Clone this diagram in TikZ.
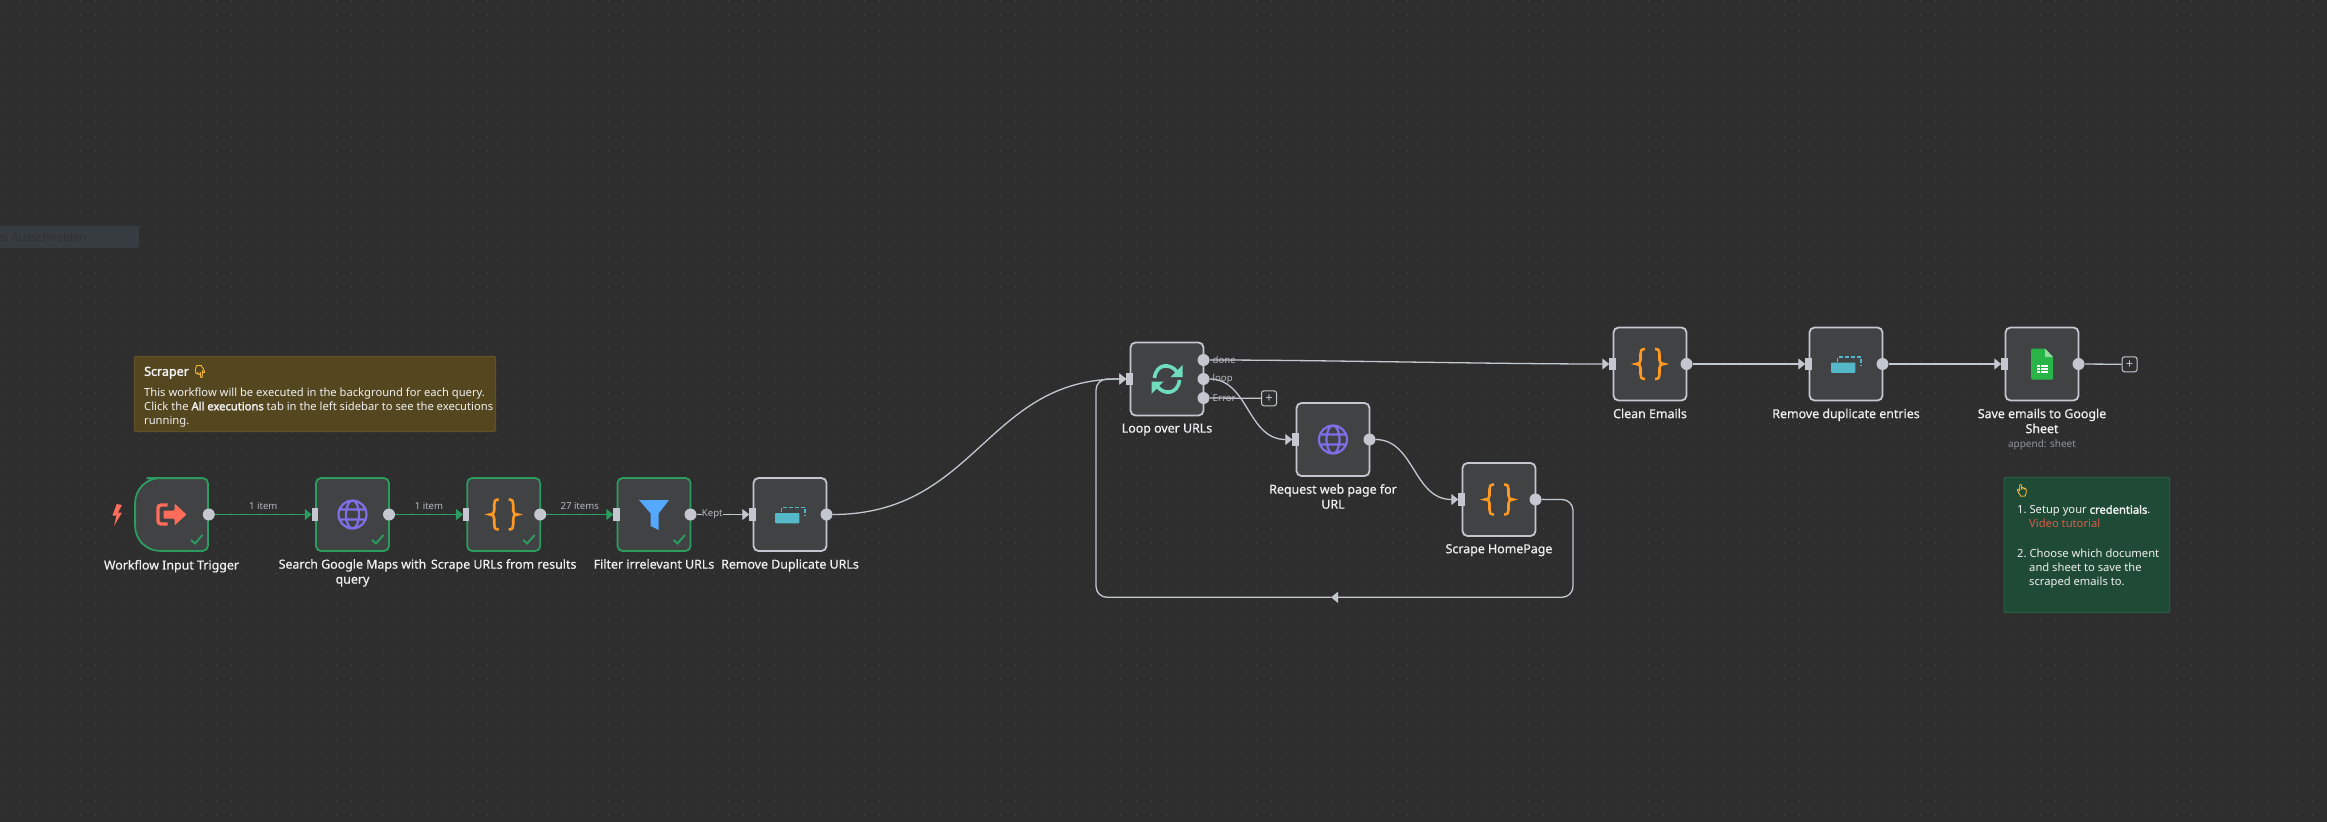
\documentclass[tikz,border=0pt]{standalone}
\usepackage{fontspec}
\setmainfont{Noto Sans}[AutoFakeBold=2.2]
\newfontfamily\labelfont{Noto Sans}[FakeBold=0.5]
\newfontfamily\emojifont{Noto Emoji}[FakeBold=1.5]
\usetikzlibrary{arrows.meta,positioning}
\definecolor{canvas}{HTML}{2E2E2E}
\definecolor{griddot}{HTML}{4C4C4C}
\definecolor{nodefill}{HTML}{414244}
\definecolor{wire}{HTML}{C4C7D0}
\definecolor{okgreen}{HTML}{2A9D5F}
\definecolor{labeltext}{HTML}{F0F0F2}
\definecolor{edgetext}{HTML}{B5B8C2}
\definecolor{coral}{HTML}{FF6D5A}
\definecolor{globeviolet}{HTML}{7D6FE8}
\definecolor{braceorange}{HTML}{FF9922}
\definecolor{funnelblue}{HTML}{55A8FF}
\definecolor{dedupeteal}{HTML}{54B8C9}
\definecolor{loopmint}{HTML}{6FDCC0}
\definecolor{sheetgreen}{HTML}{28B446}
\definecolor{handyellow}{HTML}{F5B942}
\definecolor{ghoststrip}{HTML}{363C40}
\definecolor{ghosttext}{HTML}{2F3033}
\definecolor{amberfill}{HTML}{54461F}
\definecolor{amberline}{HTML}{6E5C28}
\definecolor{pinefill}{HTML}{1F4A35}
\definecolor{pineline}{HTML}{2A6A48}
\tikzset{
  flownode/.style={rectangle, draw=wire, fill=nodefill, line width=1.8pt, rounded corners=5pt,
    minimum size=73pt, inner sep=0pt, outer sep=0pt},
  donenode/.style={flownode, draw=okgreen},
  flowlabel/.style={text=labeltext, font=\labelfont\fontsize{12.4}{15}\selectfont, align=center, inner sep=0pt},
  outport/.style={circle, fill=wire, minimum size=12pt, inner sep=0pt, outer sep=0pt},
  inport/.style={rectangle, fill=wire, minimum width=6.5pt, minimum height=12.5pt, inner sep=0pt, outer sep=0pt},
  wireedge/.style={draw=wire, line width=1.3pt, -{Triangle[length=7pt,width=11pt]}},
  okedge/.style={draw=okgreen, line width=1.3pt, -{Triangle[length=7pt,width=11pt]}},
  edgelabel/.style={text=edgetext, font=\fontsize{9.6}{11}\selectfont, inner sep=0pt},
  pluscap/.style={rectangle, draw=wire, fill=canvas, line width=1pt, rounded corners=2.5pt, minimum size=15pt,
    inner sep=0pt, text=wire, font=\fontsize{13}{13}\selectfont},
  stickytext/.style={text=labeltext, font=\fontsize{11.2}{14}\selectfont, align=left, inner sep=0pt, anchor=north west},
}
\newcommand{\bracesicon}[1]{\begin{scope}[shift={(#1)}]
  \foreach \s in {1,-1}
    \draw[braceorange, line width=2.6pt, xscale=\s] (-5,-15) .. controls (-9,-15) and (-9.5,-13) .. (-9.5,-10) -- (-9.5,-4)
      .. controls (-9.5,-1) and (-11,0) .. (-14,0) .. controls (-11,0) and (-9.5,1) .. (-9.5,4) -- (-9.5,10)
      .. controls (-9.5,13) and (-9,15) .. (-5,15);
\end{scope}}
\newcommand{\globeicon}[1]{\begin{scope}[shift={(#1)}]
  \draw[globeviolet, line width=2.2pt] (0,0) circle [radius=14] (0,0) ellipse [x radius=6.5, y radius=14]
    (-13,-5) -- (13,-5) (-13,5) -- (13,5);
\end{scope}}
\newcommand{\dedupeicon}[1]{\begin{scope}[shift={(#1)}]
  \fill[dedupeteal, rounded corners=0.8pt] (-15,-1.5) rectangle (9.3,8.8);
  \draw[dedupeteal, line width=1.6pt, dash pattern=on 4pt off 2pt] (-8.7,-2.5) -- (-8.7,-7) -- (15,-7) -- (15,1.5);
\end{scope}}

\begin{document}
\begin{tikzpicture}[x=1pt, y=-1pt]
\useasboundingbox (0,0) rectangle (2327,822);
% Canvas and its dots
\fill[canvas] (0,0) rectangle (2327,822);
\foreach \j in {0,...,54} {
  \pgfmathsetmacro{\rowy}{0.9+15.08*\j}
  \draw[griddot, line width=1pt, dash pattern=on 1pt off 14.08pt] (4.5,\rowy) -- (2327,\rowy);
}
% Faded selection strip at the left edge
\fill[ghoststrip] (0,226) rectangle (139,248);
\node[text=ghosttext, font=\fontsize{11.5}{13}\selectfont, inner sep=0pt, anchor=east] (ghost) at (87,237) {es Ausschneiden};

% Sticky notes
\draw[fill=amberfill, draw=amberline, rounded corners=1.5pt, line width=0.8pt] (134.3,356.3) rectangle (495.7,431.7);
\node[stickytext, font=\bfseries\fontsize{12.5}{14}\selectfont] (scrapertitle) at (144,365) {Scraper {\emojifont\textcolor{handyellow}{👇}}};
\node[stickytext] (scrapernote) at (144,387.5) {This workflow will be executed in the background for each query.\\
  Click the \textbf{All executions} tab in the left sidebar to see the executions\\ running.};
\draw[fill=pinefill, draw=pineline, rounded corners=1.5pt, line width=0.8pt] (2004,477.3) rectangle (2169.7,612.7);
\node[stickytext, font=\emojifont\fontsize{12}{14}\selectfont, text=handyellow] (sheethand) at (2014,484) {👆};
\node[stickytext] (sheetnote) at (2017,505) {1.\ Setup your \textbf{credentials}.\\
  \hspace*{12pt}\textcolor{coral!85!black}{Video tutorial}\\[15.5pt]
  2.\ Choose which document\\ \hspace*{12pt}and sheet to save the\\ \hspace*{12pt}scraped emails to.};

% Workflow nodes
\node[minimum size=74.6pt, inner sep=0pt, outer sep=0pt] (trigger) at (171.5,514.5) {};
\draw[okgreen, fill=nodefill, line width=1.8pt] ([yshift=-0.9pt]trigger.north) [rounded corners=5pt] -- ([shift={(-0.9,0.9)}]trigger.north east)
  -- ([shift={(-0.9,-0.9)}]trigger.south east) [rounded corners=25pt] -- ([shift={(0.9,-0.9)}]trigger.south west)
  -- ([shift={(0.9,0.9)}]trigger.north west) -- cycle;
\node[donenode] (search) at (352.5,514.5) {};
\node[donenode] (scrapeurls) at (503.7,514.5) {};
\node[donenode] (filter) at (654,514.5) {};
\node[flownode] (dedupeurls) at (790,514.5) {};
\node[flownode] (loop) at (1167,379) {};
\node[flownode] (request) at (1333,439.5) {};
\node[flownode] (home) at (1499,499.5) {};
\node[flownode] (clean) at (1650,364) {};
\node[flownode] (dedupe) at (1846,364) {};
\node[flownode] (sheet) at (2042,364) {};

% Names under the nodes
\node[flowlabel, below=8pt of trigger] (triggername) {Workflow Input Trigger};
\node[flowlabel, below=8pt of search] (searchname) {Search Google Maps with\\query};
\node[flowlabel, below=8pt of scrapeurls] (scrapeurlsname) {Scrape URLs from results};
\node[flowlabel, below=8pt of filter] (filtername) {Filter irrelevant URLs};
\node[flowlabel, below=8pt of dedupeurls] (dedupeurlsname) {Remove Duplicate URLs};
\node[flowlabel, below=8pt of loop] (loopname) {Loop over URLs};
\node[flowlabel, below=8pt of request] (requestname) {Request web page for\\URL};
\node[flowlabel, below=8pt of home] (homename) {Scrape HomePage};
\node[flowlabel, below=8pt of clean] (cleanname) {Clean Emails};
\node[flowlabel, below=8pt of dedupe] (dedupename) {Remove duplicate entries};
\node[flowlabel, below=8pt of sheet] (sheetname) {Save emails to Google\\Sheet};
\node[text=edgetext!75!canvas, font=\fontsize{10}{12}\selectfont, inner sep=0pt, below=6pt of sheetname] (sheetmode) {append: sheet};

% Input ports, output ports
\foreach \n in {search,scrapeurls,filter,dedupeurls,loop,request,home,clean,dedupe,sheet}
  \node[inport] (\n-in) at ([xshift=-1pt]\n.west) {};
\foreach \n in {trigger,search,scrapeurls,filter,dedupeurls,request,home,clean,dedupe,sheet}
  \node[outport] (\n-out) at (\n.east) {};
\node[outport] (loopdone) at ([yshift=19pt]loop.east) {};
\node[outport] (loopnext) at (loop.east) {};
\node[outport] (looperror) at ([yshift=-19pt]loop.east) {};
\node[pluscap] (errorplus) at (1269,398.3) {+};
\node[pluscap] (sheetplus) at (2129.6,364.3) {+};

% Connectors of the first row
\draw[okedge] (trigger-out) -- (search-in.west) node[edgelabel, midway, above=4pt] (edgeone) {1 item};
\draw[okedge] (search-out) -- (scrapeurls-in.west) node[edgelabel, midway, above=4pt] (edgetwo) {1 item};
\draw[okedge] (scrapeurls-out) -- (filter-in.west) node[edgelabel, midway, above=4pt] (edgethree) {27 items};
\draw[wireedge] (filter-out) -- (dedupeurls-in.west) node[edgelabel, fill=canvas, pos=0.3] (edgekept) {Kept};
\draw[wireedge] (dedupeurls-out) .. controls +(150,0) and +(-140,0) .. (loop-in.west);

% Connectors of the loop
\draw[wireedge] (loopdone) .. controls +(120,0) and +(-120,0) .. (clean-in.west);
\draw[wireedge] (loopnext) .. controls +(45,0) and +(-45,0) .. (request-in.west);
\draw[draw=wire, line width=1.3pt] (looperror) -- (errorplus);
\draw[wireedge] (request-out) .. controls +(45,0) and +(-45,0) .. (home-in.west);
\coordinate (backarrow) at (1331,597.3);
\draw[wireedge, rounded corners=11pt] (home-out) -- (1573,499.5) -- (1573,597.3) -- (backarrow);
\draw[wireedge, rounded corners=11pt] (backarrow) -- (1096,597.3) -- (1096,379) -- (loop-in.west);
\draw[wireedge] (clean-out) -- (dedupe-in.west);
\draw[wireedge] (dedupe-out) -- (sheet-in.west);
\draw[draw=wire, line width=1.3pt] (sheet-out) -- (sheetplus);
\foreach \p/\t in {loopdone/done,loopnext/loop,looperror/Error}
  \node[edgelabel, anchor=west, xshift=3pt] (\p-name) at (\p.east) {\t};

% Icons
\fill[coral] (116.7,504) -- (112.5,515.5) -- (116.5,515.5) -- (114,526) -- (122,512.5) -- (118,512.5) -- (122,505) -- cycle;
\begin{scope}[shift={(trigger.center)}]
  \draw[coral, line width=3.4pt, rounded corners=3pt] (-4,-9.5) -- (-13.5,-9.5) -- (-13.5,9.5) -- (-4,9.5);
  \fill[coral, rounded corners=1pt] (-8,-4) -- (3,-4) -- (3,-11) -- (15,0) -- (3,11) -- (3,4) -- (-8,4) -- cycle;
\end{scope}
\globeicon{search.center}
\globeicon{request.center}
\bracesicon{scrapeurls.center}
\bracesicon{home.center}
\bracesicon{clean.center}
\begin{scope}[shift={(filter.center)}]
  \fill[funnelblue] (-15,-14.5) -- (15,-14.5) -- (4.6,-1) -- (4.6,15.5) -- (-3.3,11.5) -- (-3.3,-1) -- cycle;
\end{scope}
\dedupeicon{dedupeurls.center}
\dedupeicon{dedupe.center}
\begin{scope}[shift={(loop.center)}]
  \draw[loopmint, line width=3.6pt] (-12.5,-1) .. controls (-11,-16) and (4,-16) .. (10,-7);
  \fill[loopmint] (15.5,-14) -- (15.5,-2) -- (3.5,-2) -- cycle;
  \draw[loopmint, line width=3.6pt] (12.5,1) .. controls (11,16) and (-4,16) .. (-10,7);
  \fill[loopmint] (-15.5,15) -- (-15.5,2.5) -- (-3.5,2.5) -- cycle;
\end{scope}
\begin{scope}[shift={(sheet.center)}]
  \fill[sheetgreen, rounded corners=1pt] (-11,-15.5) -- (3,-15.5) -- (11,-7) -- (11,15.5) -- (-11,15.5) -- cycle;
  \fill[sheetgreen!50!white] (3,-15.5) -- (11,-7) -- (3,-7) -- cycle;
  \fill[white] (-5.5,0.5) rectangle (5.5,9);
  \draw[sheetgreen, line width=0.8pt] (-5.5,3.3) -- (5.5,3.3) (-5.5,6.2) -- (5.5,6.2) (-1.5,0.5) -- (-1.5,9);
\end{scope}
% Check marks of the finished nodes
\foreach \n in {trigger,search,scrapeurls,filter}
  \draw[okgreen, line width=1.9pt] ([shift={(19.5,25.5)}]\n.center) -- ([shift={(23.5,29)}]\n.center) -- ([shift={(31,20.5)}]\n.center);
\end{tikzpicture}
\end{document}
